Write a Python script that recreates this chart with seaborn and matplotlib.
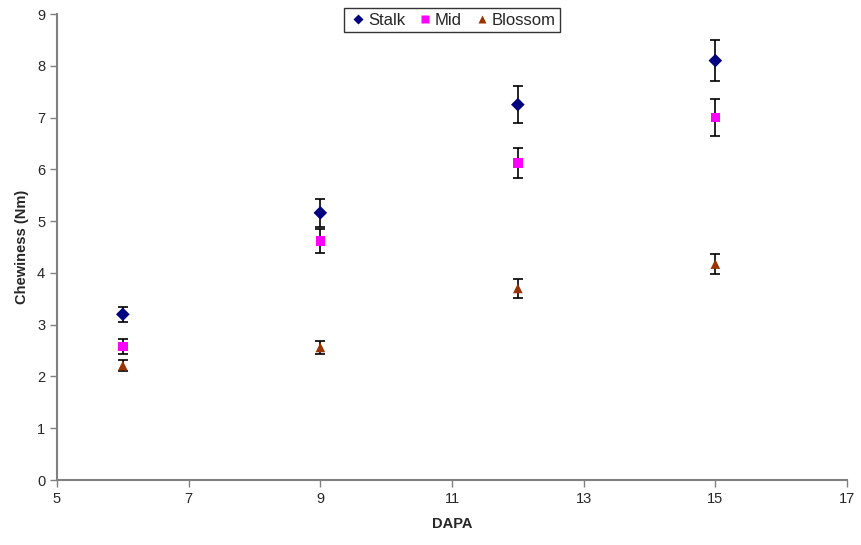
import matplotlib
matplotlib.use("Agg")
import matplotlib.pyplot as plt
import seaborn as sns
import pandas as pd

dapa = [6, 9, 12, 15]
stalk = [3.20, 5.16, 7.25, 8.10]
stalk_err = [0.15, 0.27, 0.36, 0.40]
mid = [2.58, 4.62, 6.12, 7.00]
mid_err = [0.14, 0.23, 0.29, 0.35]
blossom = [2.21, 2.56, 3.70, 4.17]
blossom_err = [0.10, 0.12, 0.19, 0.20]

series = ["Stalk", "Mid", "Blossom"]
colors = {"Stalk": "#000080", "Mid": "#FF00FF", "Blossom": "#993300"}
markers = {"Stalk": "D", "Mid": "s", "Blossom": "^"}

rows = []
for name, vals, errs in [("Stalk", stalk, stalk_err), ("Mid", mid, mid_err), ("Blossom", blossom, blossom_err)]:
    for x, v, e in zip(dapa, vals, errs):
        rows.append({"DAPA": x, "Chewiness": v, "err": e, "Series": name})
df = pd.DataFrame(rows)

sns.set_style("white")
plt.rcParams["font.family"] = ["Liberation Sans", "DejaVu Sans"]

fig = plt.figure(figsize=(8.62, 5.45), dpi=100)
ax = fig.add_axes([57/862, 65/545, 790/862, 466/545])

for name in series:
    d = df[df["Series"] == name]
    ax.errorbar(d["DAPA"], d["Chewiness"], yerr=d["err"], fmt="none",
                ecolor="black", elinewidth=1.2, capsize=3.5, capthick=1.2, zorder=2)

sns.scatterplot(data=df, x="DAPA", y="Chewiness", hue="Series", style="Series",
                hue_order=series, style_order=series, palette=colors, markers=markers,
                s=48, edgecolor="none", ax=ax, zorder=3)

ax.set_xlim(5, 17)
ax.set_ylim(0, 9)
ax.set_xticks(range(5, 18, 2))
ax.set_yticks(range(0, 10))
ax.tick_params(axis="both", labelsize=10.5, length=5, width=1, color="#808080",
               direction="out", bottom=True, left=True)
for s in ["top", "right"]:
    ax.spines[s].set_visible(False)
for s in ["left", "bottom"]:
    ax.spines[s].set_color("#808080")
    ax.spines[s].set_linewidth(1.5)

ax.set_xlabel("DAPA", fontsize=10.5, fontweight="bold", labelpad=8)
ax.set_ylabel("Chewiness (Nm)", fontsize=10.5, fontweight="bold", labelpad=6)

leg = ax.legend(loc="upper center", bbox_to_anchor=(0.5, 1.012), ncol=3, frameon=True,
                fontsize=12, handletextpad=0.0, columnspacing=0.6, borderpad=0.25,
                handlelength=1.2, markerscale=0.75, fancybox=False, title=None,
                borderaxespad=0)
leg.get_frame().set_edgecolor("black")
leg.get_frame().set_linewidth(1)

fig.savefig("out.png", dpi=100)
